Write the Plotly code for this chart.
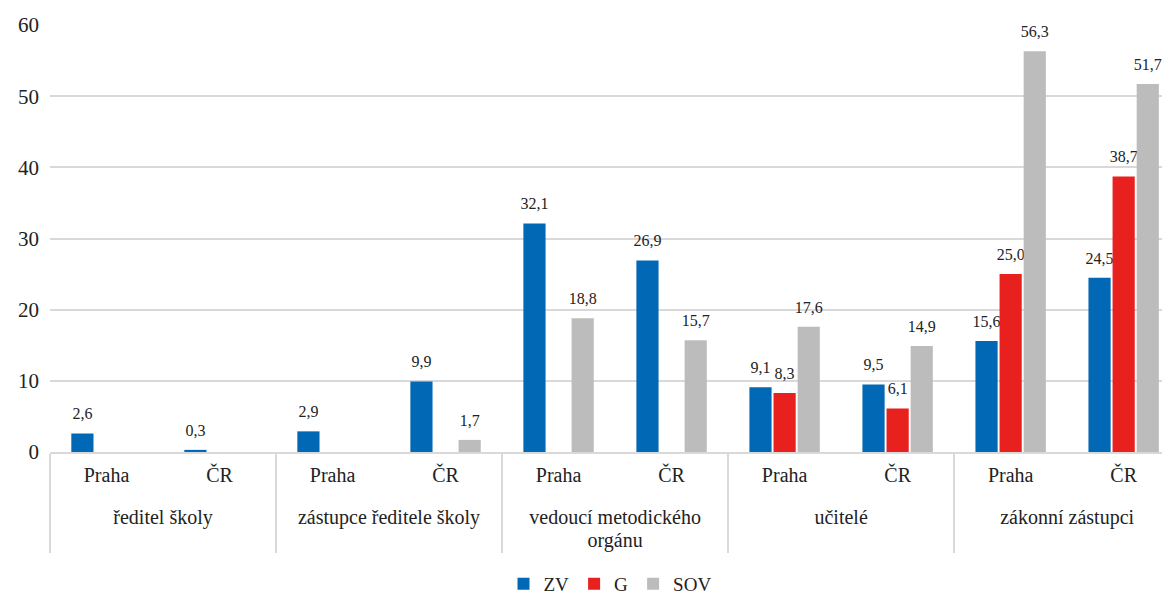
import plotly.graph_objects as go

groups = ["ředitel školy", "ředitel školy",
          "zástupce ředitele školy", "zástupce ředitele školy",
          "vedoucí metodického<br>orgánu", "vedoucí metodického<br>orgánu",
          "učitelé", "učitelé",
          "zákonní zástupci", "zákonní zástupci"]
regions = ["Praha", "ČR"] * 5

zv = [2.6, 0.3, 2.9, 9.9, 32.1, 26.9, 9.1, 9.5, 15.6, 24.5]
g = [None, None, None, None, None, None, 8.3, 6.1, 25.0, 38.7]
sov = [None, None, None, 1.7, 18.8, 15.7, 17.6, 14.9, 56.3, 51.7]

series = [("ZV", zv, "#0068b4"), ("G", g, "#e8201e"), ("SOV", sov, "#bcbcbc")]

FONT = "Liberation Serif, Times New Roman, DejaVu Serif, serif"


def big(label):
    # keep each line in 20px text; line spacing follows the smaller tick font
    return "<br>".join("<span style='font-size:20px'>%s</span>" % part for part in label.split("<br>"))


x_groups = ["<br>" + big(s) for s in groups]
x_regions = [big(s) for s in regions]

fig = go.Figure()
for name, vals, col in series:
    fig.add_trace(go.Bar(
        x=[x_groups, x_regions], y=vals, name=name,
        marker=dict(color=col, line=dict(width=0)),
        texttemplate="<span style='font-size:16px'>%{y:.1f}</span><br> ",
        textposition="outside", constraintext="none",
        textfont=dict(family=FONT, size=7, color="#222222"),
        cliponaxis=False,
    ))

fig.update_layout(
    width=1162, height=587,
    margin=dict(l=42, r=0, t=17, b=143, autoexpand=False),
    paper_bgcolor="white", plot_bgcolor="white",
    barmode="group", bargap=0.36, bargroupgap=0.08,
    separators=", ",
    font=dict(family=FONT, size=20, color="#222222"),
    legend=dict(orientation="h", x=0.5, xanchor="center", y=-0.309, yanchor="middle",
                font=dict(family=FONT, size=19), itemwidth=30, traceorder="normal"),
    showlegend=True,
)
fig.update_yaxes(range=[0, 60], dtick=10, showgrid=True, gridcolor="#d9d9d9", gridwidth=1.5,
                 zeroline=False, showline=False, ticks="", tickfont=dict(family=FONT, size=21),
                 ticklabelstandoff=10, automargin=False)
fig.update_xaxes(type="multicategory", range=[-0.5, 9.41],
                 showline=True, linecolor="#d9d9d9", linewidth=1.5,
                 showdividers=True, dividercolor="#d9d9d9", dividerwidth=1.5,
                 ticks="", tickfont=dict(family=FONT, size=18), automargin=False,
                 ticklabelstandoff=7)

fig.write_html("out.html")
